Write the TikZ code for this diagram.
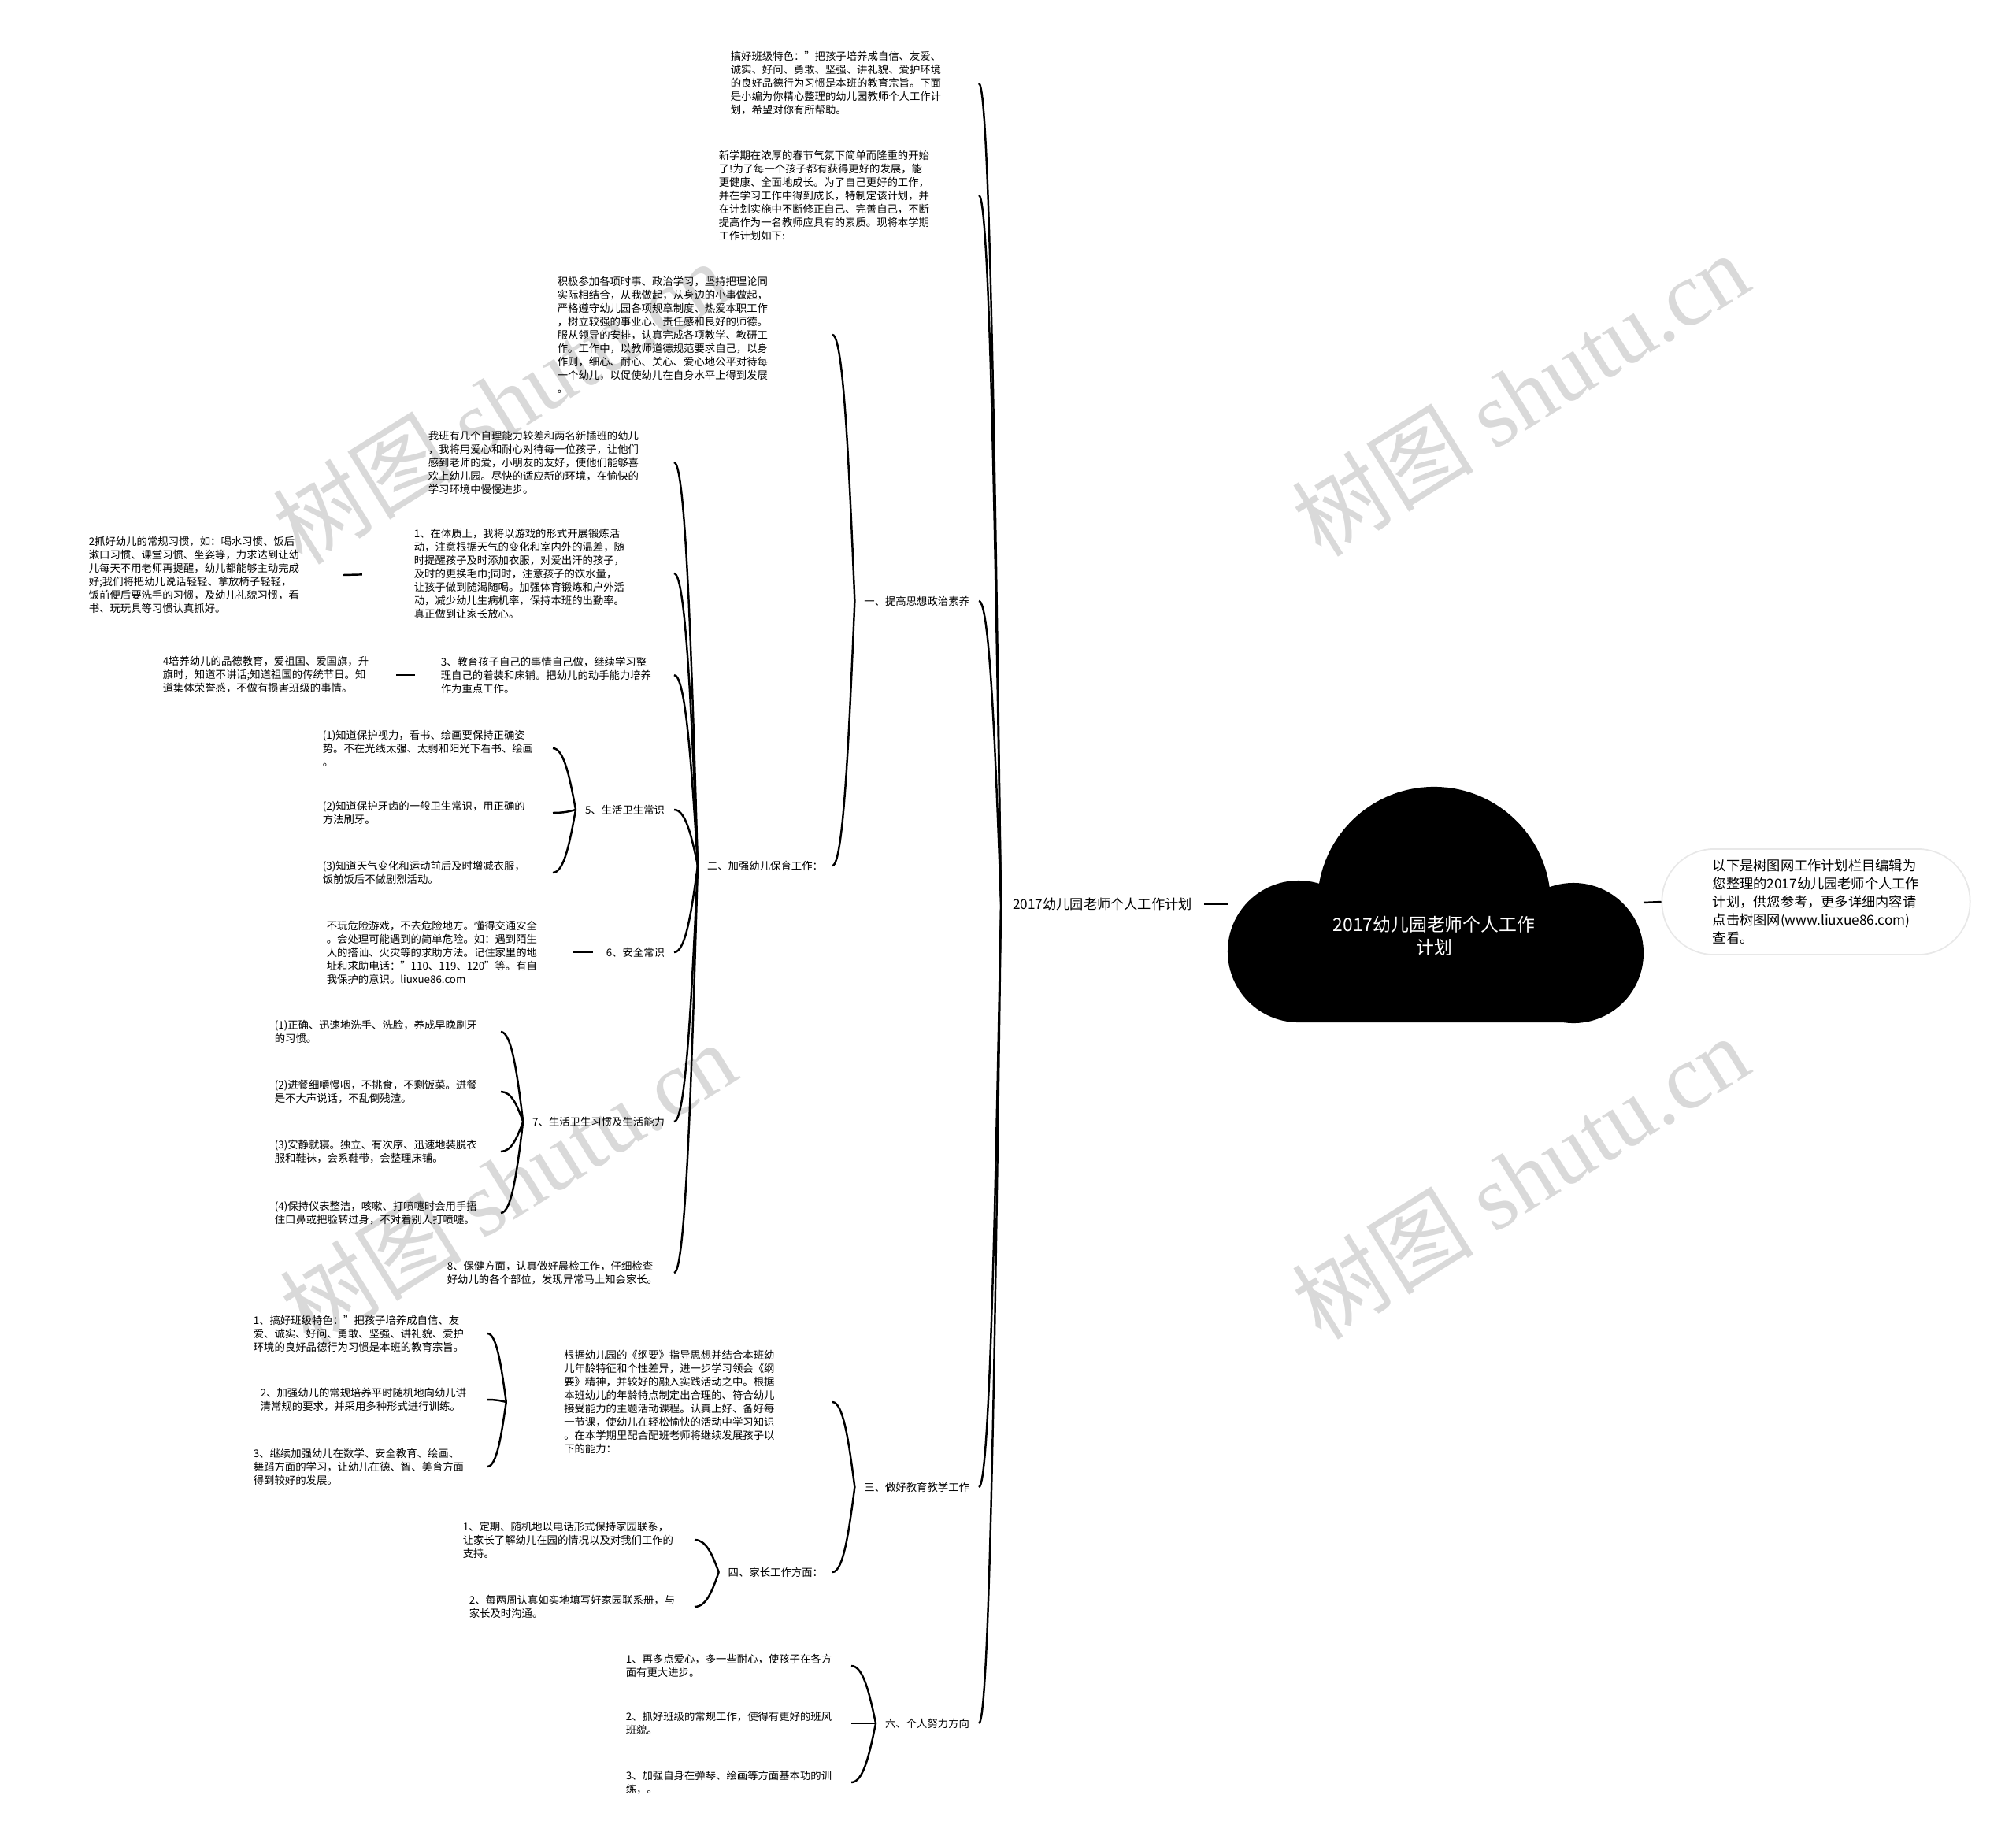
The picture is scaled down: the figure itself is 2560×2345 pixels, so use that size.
\documentclass[tikz,border=0pt]{standalone}
\usepackage{fontspec}
\setmainfont{Noto Sans CJK SC}
\newfontfamily\wmserif{Liberation Serif}
\usepackage{tikz}
\usetikzlibrary{calc}

\newcommand{\ptxt}{\fontsize{3.8pt}{4.84pt}\selectfont}
\newcommand{\ltxt}{\fontsize{4.9pt}{6.5pt}\selectfont}
\newcommand{\ctxt}{\fontsize{6.5pt}{8.3pt}\selectfont}
\newcommand{\wtxt}{\fontsize{33pt}{33pt}\selectfont}

\begin{document}
\begin{tikzpicture}[x=0.01cm, y=-0.01cm, line width=0.7pt,
    para/.style={font=\ptxt, align=left, inner sep=0pt, outer xsep=0.12cm, anchor=east},
    topic/.style={font=\ptxt, inner sep=0pt, outer xsep=0.12cm, anchor=east},
    link/.style={to path={let \p1=(\tikztostart), \p2=(\tikztotarget) in
        .. controls ({\x1+0.25*(\x2-\x1)},{\y1+0.5*(\y2-\y1)}) and ({\x2+0.5*(\x1-\x2)},{\y2}) .. (\tikztotarget)}},
    wm/.style={font=\wtxt, text=black!15, rotate=32, inner sep=0pt}]
    \useasboundingbox (0,0) rectangle (2560,2345);

    % 水印
    \foreach \wx/\wy [count=\i] in {636/510, 1930/500, 645/1502, 1930/1494}
        \node[wm] (wm\i) at (\wx,\wy) {树图 {\wmserif shutu.cn}};

    % 中心云朵
    \fill[black] (1821,1147) circle (1.48cm) (1649,1208) circle (0.90cm)
        (1998,1210) circle (0.89cm) (1649,1150) rectangle (1998,1298);
    \node[font=\ctxt, text=white, align=center] (ctr) at (1821,1188) {2017幼儿园老师个人工作\\计划};
    \coordinate (cloudL) at (1559,1148);
    \coordinate (cloudR) at (2087,1146);

    % 右侧说明
    \node[draw=black!9, line width=0.5pt, rounded corners=0.66cm, minimum width=3.91cm,
        minimum height=1.34cm, font=\ltxt, align=left] (intro) at (2306,1145)
        {以下是树图网工作计划栏目编辑为\\您整理的2017幼儿园老师个人工作\\计划，供您参考，更多详细内容请\\点击树图网(www.liuxue86.com)\\查看。};
    \draw (cloudR) -- (intro.west);

    % 主题
    \node[font=\ltxt, inner sep=0pt, outer xsep=0.15cm] (root) at (1400,1148) {2017幼儿园老师个人工作计划};
    \draw (root.east) -- (cloudL);

    % 一级分支
    \node[para, text width=3.03cm] (p1) at (1243,106)
        {搞好班级特色："把孩子培养成自信、友爱、\\诚实、好问、勇敢、坚强、讲礼貌、爱护环境\\的良好品德行为习惯是本班的教育宗旨。下面\\是小编为你精心整理的幼儿园教师个人工作计\\划，希望对你有所帮助。};
    \node[para, text width=3.18cm] (p2) at (1243,248)
        {新学期在浓厚的春节气氛下简单而隆重的开始\\了!为了每一个孩子都有获得更好的发展，能\\更健康、全面地成长。为了自己更好的工作，\\并在学习工作中得到成长，特制定该计划，并\\在计划实施中不断修正自己、完善自己，不断\\提高作为一名教师应具有的素质。现将本学期\\工作计划如下:};
    \node[topic] (s1) at (1243,763) {一、提高思想政治素养};
    \node[topic] (s3) at (1243,1888) {三、做好教育教学工作};
    \node[topic] (s6) at (1243,2188) {六、个人努力方向};
    \foreach \kid in {p1,p2,s1,s3,s6}
        \draw[link] (root.west) to (\kid.east);

    % 一、提高思想政治素养
    \node[para, text width=3.37cm] (p3) at (1057,425)
        {积极参加各项时事、政治学习，坚持把理论同\\实际相结合，从我做起，从身边的小事做起，\\严格遵守幼儿园各项规章制度、热爱本职工作\\，树立较强的事业心、责任感和良好的师德。\\服从领导的安排，认真完成各项教学、教研工\\作。工作中，以教师道德规范要求自己，以身\\作则，细心、耐心、关心、爱心地公平对待每\\一个幼儿，以促使幼儿在自身水平上得到发展\\。};
    \node[topic] (s2) at (1057,1099) {二、加强幼儿保育工作：};
    \foreach \kid in {p3,s2}
        \draw[link] (s1.west) to (\kid.east);

    % 二、加强幼儿保育工作
    \node[para, text width=3.00cm] (p4) at (856,587)
        {我班有几个自理能力较差和两名新插班的幼儿\\，我将用爱心和耐心对待每一位孩子，让他们\\感到老师的爱，小朋友的友好，使他们能够喜\\欢上幼儿园。尽快的适应新的环境，在愉快的\\学习环境中慢慢进步。};
    \node[para, text width=3.18cm] (p5) at (856,728)
        {1、在体质上，我将以游戏的形式开展锻炼活\\动，注意根据天气的变化和室内外的温差，随\\时提醒孩子及时添加衣服，对爱出汗的孩子，\\及时的更换毛巾;同时，注意孩子的饮水量，\\让孩子做到随渴随喝。加强体育锻炼和户外活\\动，减少幼儿生病机率，保持本班的出勤率。\\真正做到让家长放心。};
    \node[para, text width=2.84cm] (p6) at (856,857)
        {3、教育孩子自己的事情自己做，继续学习整\\理自己的着装和床铺。把幼儿的动手能力培养\\作为重点工作。};
    \node[topic] (t5) at (856,1028) {5、生活卫生常识};
    \node[topic] (t6) at (856,1209) {6、安全常识};
    \node[topic] (t7) at (856,1424) {7、生活卫生习惯及生活能力};
    \node[para, text width=2.76cm] (p8) at (856,1616)
        {8、保健方面，认真做好晨检工作，仔细检查\\好幼儿的各个部位，发现异常马上知会家长。};
    \foreach \kid in {p4,p5,p6,t5,t6,t7,p8}
        \draw[link] (s2.west) to (\kid.east);

    \node[para, text width=3.11cm] (p5a) at (436,730)
        {2抓好幼儿的常规习惯，如：喝水习惯、饭后\\漱口习惯、课堂习惯、坐姿等，力求达到让幼\\儿每天不用老师再提醒，幼儿都能够主动完成\\好;我们将把幼儿说话轻轻、拿放椅子轻轻，\\饭前便后要洗手的习惯，及幼儿礼貌习惯，看\\书、玩玩具等习惯认真抓好。};
    \draw[shorten >=0.54cm] (p5a.east) -- (p5.west);
    \node[para, text width=2.84cm] (p6a) at (503,857)
        {4培养幼儿的品德教育，爱祖国、爱国旗，升\\旗时，知道不讲话;知道祖国的传统节日。知\\道集体荣誉感，不做有损害班级的事情。};
    \draw[shorten >=0.21cm] (p6a.east) -- (p6.west);

    % 5、生活卫生常识
    \node[para, text width=2.80cm] (c51) at (702,950)
        {(1)知道保护视力，看书、绘画要保持正确姿\\势。不在光线太强、太弱和阳光下看书、绘画\\。};
    \node[para, text width=2.80cm] (c52) at (702,1032)
        {(2)知道保护牙齿的一般卫生常识，用正确的\\方法刷牙。};
    \node[para, text width=2.80cm] (c53) at (702,1108)
        {(3)知道天气变化和运动前后及时增减衣服，\\饭前饭后不做剧烈活动。};
    \foreach \kid in {c51,c52,c53}
        \draw[link] (t5.west) to (\kid.east);

    % 6、安全常识
    \node[para, text width=3.01cm] (p6s) at (728,1209)
        {不玩危险游戏，不去危险地方。懂得交通安全\\。会处理可能遇到的简单危险。如：遇到陌生\\人的搭讪、火灾等的求助方法。记住家里的地\\址和求助电话："110、119、120"等。有自\\我保护的意识。liuxue86.com};
    \draw[shorten >=0.05cm] (p6s.east) -- (t6.west);

    % 7、生活卫生习惯及生活能力
    \node[para, text width=2.75cm] (c71) at (636,1310)
        {(1)正确、迅速地洗手、洗脸，养成早晚刷牙\\的习惯。};
    \node[para, text width=2.75cm] (c72) at (636,1386)
        {(2)进餐细嚼慢咽，不挑食，不剩饭菜。进餐\\是不大声说话，不乱倒残渣。};
    \node[para, text width=2.75cm] (c73) at (636,1462)
        {(3)安静就寝。独立、有次序、迅速地装脱衣\\服和鞋袜，会系鞋带，会整理床铺。};
    \node[para, text width=2.75cm] (c74) at (636,1540)
        {(4)保持仪表整洁，咳嗽、打喷嚏时会用手捂\\住口鼻或把脸转过身，不对着别人打喷嚏。};
    \foreach \kid in {c71,c72,c73,c74}
        \draw[link] (t7.west) to (\kid.east);

    % 三、做好教育教学工作
    \node[para, minimum width=3.90cm] (p9) at (1057,1780)
        {根据幼儿园的《纲要》指导思想并结合本班幼\\儿年龄特征和个性差异，进一步学习领会《纲\\要》精神，并较好的融入实践活动之中。根据\\本班幼儿的年龄特点制定出合理的、符合幼儿\\接受能力的主题活动课程。认真上好、备好每\\一节课，使幼儿在轻松愉快的活动中学习知识\\。在本学期里配合配班老师将继续发展孩子以\\下的能力：};
    \node[topic] (t4) at (1057,1996) {四、家长工作方面：};
    \foreach \kid in {p9,t4}
        \draw[link] (s3.west) to (\kid.east);

    \node[para, text width=2.85cm] (c91) at (619,1693)
        {1、搞好班级特色："把孩子培养成自信、友\\爱、诚实、好问、勇敢、坚强、讲礼貌、爱护\\环境的良好品德行为习惯是本班的教育宗旨。};
    \node[para, text width=2.76cm] (c92) at (619,1777)
        {2、加强幼儿的常规培养平时随机地向幼儿讲\\清常规的要求，并采用多种形式进行训练。};
    \node[para, text width=2.85cm] (c93) at (619,1862)
        {3、继续加强幼儿在数学、安全教育、绘画、\\舞蹈方面的学习，让幼儿在德、智、美育方面\\得到较好的发展。};
    \foreach \kid in {c91,c92,c93}
        \draw[link] (p9.west) to (\kid.east);

    % 四、家长工作方面
    \node[para, text width=2.82cm] (k1) at (882,1955)
        {1、定期、随机地以电话形式保持家园联系，\\让家长了解幼儿在园的情况以及对我们工作的\\支持。};
    \node[para, text width=2.74cm] (k2) at (882,2040)
        {2、每两周认真如实地填写好家园联系册，与\\家长及时沟通。};
    \foreach \kid in {k1,k2}
        \draw[link] (t4.west) to (\kid.east);

    % 六、个人努力方向
    \node[para, text width=2.74cm] (q1) at (1081,2115)
        {1、再多点爱心，多一些耐心，使孩子在各方\\面有更大进步。};
    \node[para, text width=2.74cm] (q2) at (1081,2188)
        {2、抓好班级的常规工作，使得有更好的班风\\班貌。};
    \node[para, text width=2.74cm] (q3) at (1081,2263)
        {3、加强自身在弹琴、绘画等方面基本功的训\\练，。};
    \foreach \kid in {q1,q2,q3}
        \draw[link] (s6.west) to (\kid.east);
\end{tikzpicture}
\end{document}
